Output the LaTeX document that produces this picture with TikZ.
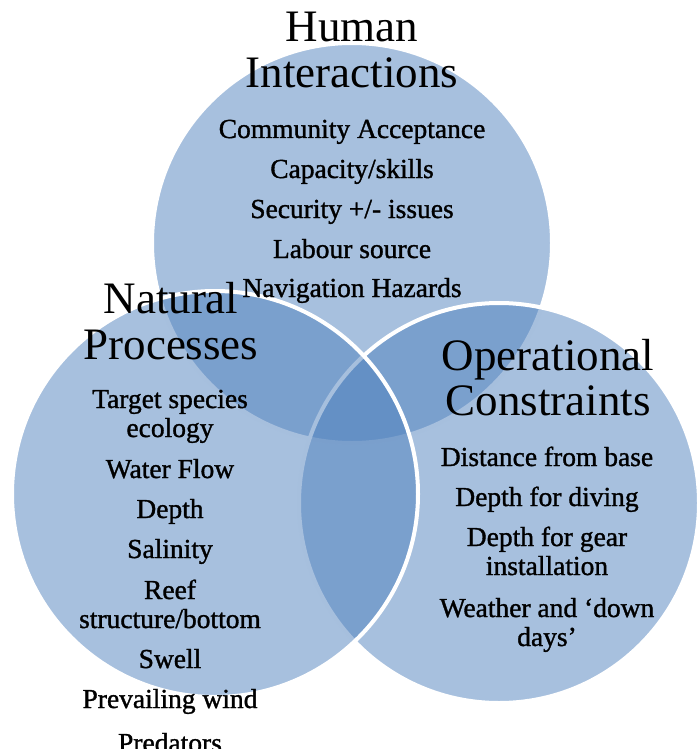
\documentclass[tikz,border=0pt]{standalone}
\usepackage{fontspec}
\setmainfont{Liberation Serif}
\newfontfamily\itemfont[FakeBold=1.2, Ligatures=TeX]{Liberation Serif}
\definecolor{vennblue}{RGB}{79,129,189}
\tikzset{
  venn/.style={circle, draw=white, line width=4pt, fill=vennblue, fill opacity=0.5, minimum size=400pt, inner sep=0pt},
  heading/.style={font=\fontsize{45}{45}\selectfont, anchor=base, inner sep=0pt},
  item/.style={font=\itemfont\fontsize{27.5}{29}\selectfont, anchor=base, inner sep=0pt}
}
\begin{document}
\begin{tikzpicture}[x=1pt, y=-1pt]
\useasboundingbox (0, 0) rectangle (697, 749);

\node [venn] (H) at (352, 243) {};
\node [venn] (O) at (499, 503) {};
\node [venn, minimum size=406pt] (N) at (215, 494) {};

\node [heading] (H1) at (352, 42) {Human};
\node [heading] (H2) at (352, 88) {Interactions};
\node [item] (HA) at (352, 138) {Community Acceptance};
\node [item] (HB) at (352, 178) {Capacity/skills};
\node [item] (HC) at (352, 218) {Security +/- issues};
\node [item] (HD) at (352, 258) {Labour source};
\node [item] (HE) at (352, 297) {Navigation Hazards};

\node [heading] (N1) at (171, 313) {Natural};
\node [heading] (N2) at (171, 359) {Processes};
\node [item] (NA) at (170, 408) {Target species};
\node [item] (NB) at (170, 437) {ecology};
\node [item] (NC) at (170, 478) {Water Flow};
\node [item] (ND) at (170, 518) {Depth};
\node [item] (NE) at (170, 558) {Salinity};
\node [item] (NF) at (170, 599) {Reef};
\node [item] (NG) at (170, 628) {structure/bottom};
\node [item] (NH) at (170, 668) {Swell};
\node [item] (NI) at (170, 708) {Prevailing wind};
\node [item] (NJ) at (170, 752) {Predators};

\node [heading] (O1) at (548, 370) {Operational};
\node [heading] (O2) at (548, 415) {Constraints};
\node [item] (OA) at (547, 466) {Distance from base};
\node [item] (OB) at (547, 506) {Depth for diving};
\node [item] (OC) at (547, 546) {Depth for gear};
\node [item] (OD) at (547, 575) {installation};
\node [item] (OE) at (547, 617) {Weather and ‘down};
\node [item] (OF) at (547, 646) {days’};
\end{tikzpicture}
\end{document}
